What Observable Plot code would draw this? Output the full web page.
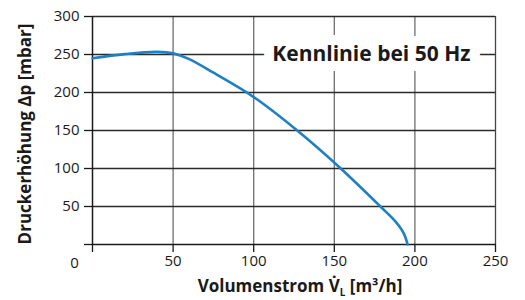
<!DOCTYPE html>
<html><head><meta charset="utf-8">
<script src="https://cdn.jsdelivr.net/npm/d3@7"></script>
<script src="https://cdn.jsdelivr.net/npm/@observablehq/plot@0.6"></script>
<style>
body{margin:0;background:#fff;}
svg{font-family:"Open Sans",sans-serif;}
</style></head><body>
<div id="chart"></div>
<script>
const flow = [0, 20, 40, 50, 60, 75, 100, 127, 153, 178.6, 188, 193, 195.5];
const pressure = [245, 250.5, 253.5, 251.5, 244, 226, 194, 150, 102, 50, 30, 15, 0];
const xTicks = [0, 50, 100, 150, 200, 250];
const yTicks = [0, 50, 100, 150, 200, 250, 300];
const yLabel = "Druckerhöhung Δp [mbar]";
const xLabelMain = "Volumenstrom V\u0307";
const xLabelSub = "L";
const xLabelUnit = " [m³/h]";
const note = "Kennlinie bei 50 Hz";

const data = flow.map((f, i) => ({flow: f, p: pressure[i]}));
const ink = "#1a1a1a";

const chart = Plot.plot({
  width: 525, height: 300,
  marginLeft: 92, marginRight: 30, marginTop: 16, marginBottom: 56,
  x: {domain: [0, 250]},
  y: {domain: [0, 300]},
  marks: [
    Plot.gridX(xTicks.slice(1, -1), {stroke: "#6e6e6e", strokeOpacity: 1, strokeWidth: 1.3}),
    Plot.gridY(yTicks.slice(1), {stroke: "#2a2a2a", strokeOpacity: 1, strokeWidth: 1.3}),
    Plot.ruleX([0], {stroke: ink, strokeWidth: 1.5}),
    Plot.ruleX([250], {stroke: "#444", strokeWidth: 1.3}),
    Plot.ruleY([0], {stroke: ink, strokeWidth: 1.6}),
    Plot.axisY(yTicks, {tickSize: 8, tickPadding: 5, stroke: ink, strokeWidth: 1.3,
      tickFormat: d => d === 0 ? "" : d, fontSize: 15, fill: ink, label: null}),
    Plot.axisX(xTicks, {tickSize: 8, tickPadding: 3, stroke: ink, strokeWidth: 1.3,
      tickFormat: d => d === 0 ? "" : d, fontSize: 15, fill: ink, label: null}),
    Plot.text([0], {x: 0, y: 0, text: d => String(d), dx: -18, dy: 19, fontSize: 15, fill: ink}),
    Plot.line(data, {x: "flow", y: "p", stroke: "#1f7fc3", strokeWidth: 2.6, curve: "catmull-rom"}),
    Plot.text([note], {x: 173, y: 250, text: d => d, dy: 0, fontSize: 21, fontWeight: "bold", fill: ink,
      stroke: "white", strokeWidth: 20, strokeLinejoin: "miter"})
  ]
});

const svg = d3.select(chart);
svg.append("text")
  .attr("transform", "translate(31,134) rotate(-90)")
  .attr("text-anchor", "middle")
  .attr("font-size", 17).attr("font-weight", "bold").attr("fill", ink)
  .text(yLabel);
const xl = svg.append("text")
  .attr("x", 300).attr("y", 291.5)
  .attr("text-anchor", "middle")
  .attr("font-size", 17).attr("font-weight", "bold").attr("fill", ink);
xl.append("tspan").text(xLabelMain);
xl.append("tspan").attr("dy", 4).attr("font-size", 10).text(xLabelSub);
xl.append("tspan").attr("dy", -4).text(xLabelUnit);

document.getElementById("chart").append(chart);
</script>
</body></html>
